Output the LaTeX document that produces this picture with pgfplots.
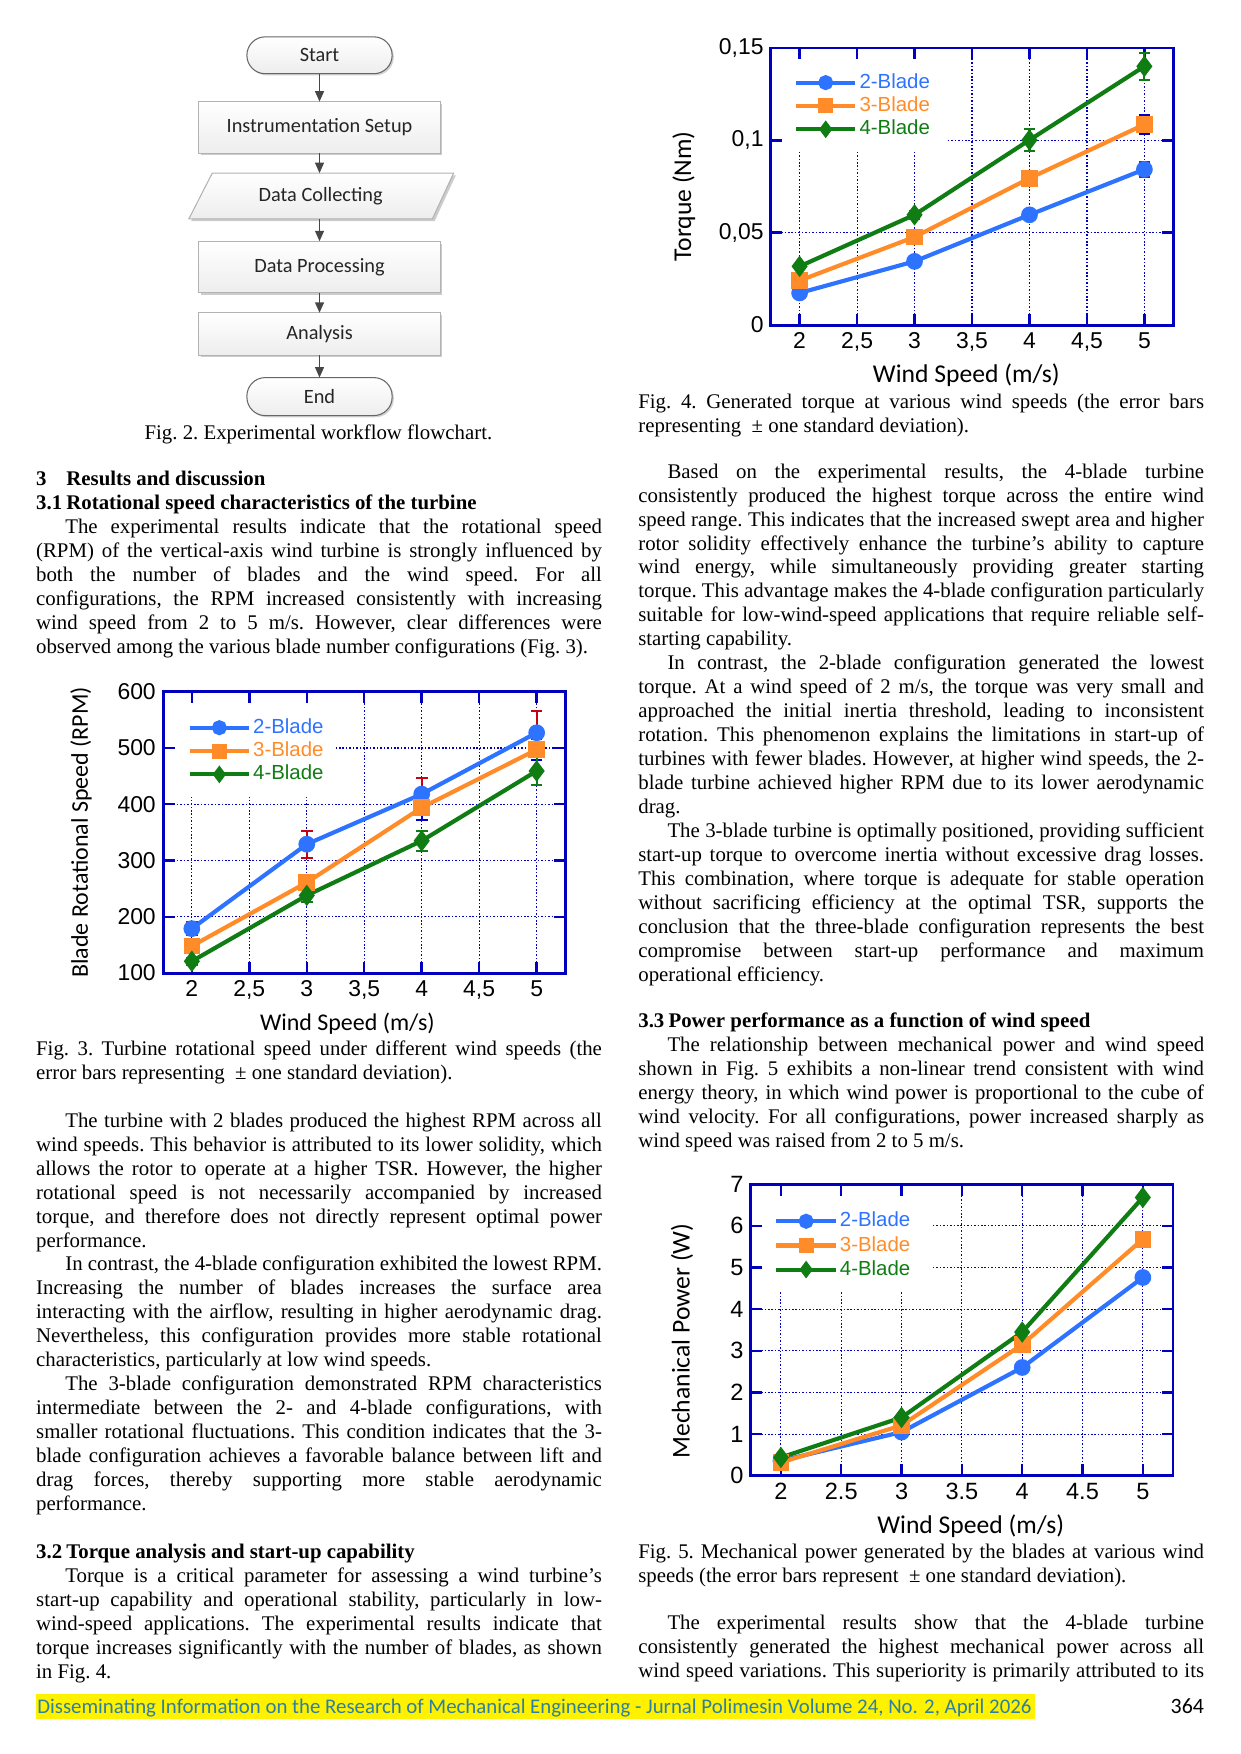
\documentclass[border=0pt]{standalone}
\usepackage{pgfplots}
\pgfplotsset{compat=1.18}
\usetikzlibrary{arrows.meta}
\usepackage{fontspec}
\setmainfont{Liberation Serif}
\newfontfamily\arial{Liberation Sans}
\newfontfamily\carlito{Carlito}

\definecolor{axblue}{RGB}{0,0,190}
\definecolor{c2}{RGB}{45,115,255}
\definecolor{c3}{RGB}{255,140,40}
\definecolor{c4}{RGB}{16,125,20}
\definecolor{eb2}{RGB}{200,0,20}
\definecolor{eb3}{RGB}{0,0,200}
\definecolor{footc}{RGB}{47,128,160}
\definecolor{flowline}{RGB}{70,70,70}

\newlength\colw \setlength\colw{271.6pt}
\newcommand\J[1]{\hbox to \colw{#1}}
\newcommand\N[1]{\hbox{#1}}
\newcommand\blk[1]{\vtop{\baselineskip=11.5pt\lineskiplimit=-20pt #1}}
\newcommand\bodyfont{\fontsize{10}{11.5}\selectfont\frenchspacing\spaceskip=2.5pt plus 6pt minus 1.3pt\relax}
\newcommand\ind{\hskip 14pt}
\newcommand\hd[2]{\hbox{\bfseries\hbox to 14.5pt{#1\hss}#2}}

\tikzset{g/.style={axblue, line width=0.55pt, dash pattern=on 0.75pt off 0.9pt}}
\pgfplotsset{
  chart/.style={
    scale only axis, anchor=south west,
    xmin=1.75, xmax=5.25,
    xtick={2,2.5,3,3.5,4,4.5,5},
    axis line style={axblue, line width=1.4pt},
    tick align=inside, major tick length=5.5pt,
    every tick/.style={axblue, line width=1.2pt},
    tick label style={font=\arial\fontsize{11}{13}\selectfont, text=black},
    label style={font=\carlito\fontsize{12.3}{14}\selectfont},
    legend style={draw=none, fill=none, inner sep=0pt, outer sep=0pt, anchor=west,
       font=\arial\fontsize{9.8}{11}\selectfont, row sep=0.2pt,
       nodes={inner sep=1pt, text height=7.2pt, text depth=1.8pt}},
    legend cell align=left,
    legend image code/.code={\draw[mark repeat=2,mark phase=2,##1,mark size=2.6pt] plot coordinates {(0cm,0cm)(0.5cm,0cm)(1cm,0cm)};},
  },
  s2/.style={c2, line width=2pt, mark=*, mark size=3.0pt, mark options={solid}},
  s3/.style={c3, line width=2pt, mark=square*, mark size=3.0pt, mark options={solid}},
  s4/.style={c4, line width=2pt, mark=diamond*, mark size=3.5pt, mark options={solid}},
  eb/.style={/pgfplots/error bars/y dir=both, /pgfplots/error bars/y explicit,
     /pgfplots/error bars/error bar style={#1, line width=1pt},
     /pgfplots/error bars/error mark options={#1, rotate=90, mark size=2.8pt, line width=1pt}},
}

\begin{document}
\begin{tikzpicture}
\begin{scope}[x=0.5363pt,y=0.5363pt]
\path[use as bounding box] (0,0) rectangle (1110,1570);

% ---------------- flowchart ----------------
\tikzset{fbox/.style={draw=gray!60, line width=0.5pt, top color=white, bottom color=gray!14},
         sh/.style={fill=gray!40},
         ftext/.style={font=\carlito\fontsize{9.75}{11}\selectfont, text=black!85},
         farr/.style={flowline, line width=0.8pt, -{Triangle[length=5pt,width=4.2pt]}}}
\fill[gray!35, rounded corners=8.8pt] (222.5,1502.5) rectangle (352.5,1535.5);
\draw[fbox, draw=gray!80!black, rounded corners=8.8pt] (221,1504) rectangle (351,1537);
\node[ftext] at (286,1520.5) {Start};
\fill[sh] (180,1431) rectangle (396,1477);
\draw[fbox] (178,1433) rectangle (394,1479);
\node[ftext] at (286,1456) {Instrumentation Setup};
\fill[sh] (192,1413) -- (408,1413) -- (389,1372) -- (171,1372) -- cycle;
\draw[fbox] (190,1415) -- (406,1415) -- (387,1374) -- (169,1374) -- cycle;
\node[ftext] at (287,1394.5) {Data Collecting};
\fill[sh] (180,1306) rectangle (396,1352);
\draw[fbox] (178,1308) rectangle (394,1354);
\node[ftext] at (286,1331) {Data Processing};
\fill[sh] (180,1250) rectangle (396,1288);
\draw[fbox] (178,1252) rectangle (394,1290);
\node[ftext] at (286,1271) {Analysis};
\fill[gray!35, rounded corners=8.8pt] (222.5,1196.5) rectangle (352.5,1230.5);
\draw[fbox, draw=gray!80!black, rounded corners=8.8pt] (221,1198) rectangle (351,1232);
\node[ftext] at (286,1215) {End};
\draw[farr] (286,1504) -- (286,1479);
\draw[farr] (286,1433) -- (286,1415);
\draw[farr] (286,1374) -- (286,1354);
\draw[farr] (286,1308) -- (286,1290);
\draw[farr] (286,1252) -- (286,1232);
\node[anchor=base, inner sep=0pt, font=\bodyfont] at (285,1177) {Fig. 2. Experimental workflow flowchart.};

% ---------------- left column text ----------------
\node[anchor=base west, inner sep=0pt, font=\bodyfont] at (32,1135) {\blk{%
\hd{3}{Results and discussion}%
\hd{3.1}{Rotational speed characteristics of the turbine}%
\J{\ind The experimental results indicate that the rotational speed}%
\J{(RPM) of the vertical-axis wind turbine is strongly influenced by}%
\J{both the number of blades and the wind speed. For all}%
\J{configurations, the RPM increased consistently with increasing}%
\J{wind speed from 2 to 5 m/s. However, clear differences were}%
\N{observed among the various blade number configurations (Fig. 3).}}};

\node[anchor=base west, inner sep=0pt, font=\bodyfont] at (32,625) {\blk{%
\J{Fig. 3. Turbine rotational speed under different wind speeds (the}%
\N{error bars representing\hskip 5pt ± one standard deviation).}}};

\node[anchor=base west, inner sep=0pt, font=\bodyfont] at (32,561) {\blk{%
\J{\ind The turbine with 2 blades produced the highest RPM across all}%
\J{wind speeds. This behavior is attributed to its lower solidity, which}%
\J{allows the rotor to operate at a higher TSR. However, the higher}%
\J{rotational speed is not necessarily accompanied by increased}%
\J{torque, and therefore does not directly represent optimal power}%
\N{performance.}%
\J{\ind In contrast, the 4-blade configuration exhibited the lowest RPM.}%
\J{Increasing the number of blades increases the surface area}%
\J{interacting with the airflow, resulting in higher aerodynamic drag.}%
\J{Nevertheless, this configuration provides more stable rotational}%
\N{characteristics, particularly at low wind speeds.}%
\J{\ind The 3-blade configuration demonstrated RPM characteristics}%
\J{intermediate between the 2- and 4-blade configurations, with}%
\J{smaller rotational fluctuations. This condition indicates that the 3-}%
\J{blade configuration achieves a favorable balance between lift and}%
\J{drag forces, thereby supporting more stable aerodynamic}%
\N{performance.}}};

\node[anchor=base west, inner sep=0pt, font=\bodyfont] at (32,175) {\blk{%
\hd{3.2}{Torque analysis and start-up capability}%
\J{\ind Torque is a critical parameter for assessing a wind turbine's}%
\J{start-up capability and operational stability, particularly in low-}%
\J{wind-speed applications. The experimental results indicate that}%
\J{torque increases significantly with the number of blades, as shown}%
\N{in Fig. 4.}}};

% ---------------- right column text ----------------
\node[anchor=base west, inner sep=0pt, font=\bodyfont] at (571,1204) {\blk{%
\J{Fig. 4. Generated torque at various wind speeds (the error bars}%
\N{representing\hskip 5pt ± one standard deviation).}}};

\node[anchor=base west, inner sep=0pt, font=\bodyfont] at (571,1142) {\blk{%
\J{\ind Based on the experimental results, the 4-blade turbine}%
\J{consistently produced the highest torque across the entire wind}%
\J{speed range. This indicates that the increased swept area and higher}%
\J{rotor solidity effectively enhance the turbine’s ability to capture}%
\J{wind energy, while simultaneously providing greater starting}%
\J{torque. This advantage makes the 4-blade configuration particularly}%
\J{suitable for low-wind-speed applications that require reliable self-}%
\N{starting capability.}%
\J{\ind In contrast, the 2-blade configuration generated the lowest}%
\J{torque. At a wind speed of 2 m/s, the torque was very small and}%
\J{approached the initial inertia threshold, leading to inconsistent}%
\J{rotation. This phenomenon explains the limitations in start-up of}%
\J{turbines with fewer blades. However, at higher wind speeds, the 2-}%
\J{blade turbine achieved higher RPM due to its lower aerodynamic}%
\N{drag.}%
\J{\ind The 3-blade turbine is optimally positioned, providing sufficient}%
\J{start-up torque to overcome inertia without excessive drag losses.}%
\J{This combination, where torque is adequate for stable operation}%
\J{without sacrificing efficiency at the optimal TSR, supports the}%
\J{conclusion that the three-blade configuration represents the best}%
\J{compromise between start-up performance and maximum}%
\N{operational efficiency.}}};

\node[anchor=base west, inner sep=0pt, font=\bodyfont] at (571,650) {\blk{%
\hd{3.3}{Power performance as a function of wind speed}%
\J{\ind The relationship between mechanical power and wind speed}%
\J{shown in Fig. 5 exhibits a non-linear trend consistent with wind}%
\J{energy theory, in which wind power is proportional to the cube of}%
\J{wind velocity. For all configurations, power increased sharply as}%
\N{wind speed was raised from 2 to 5 m/s.}}};

\node[anchor=base west, inner sep=0pt, font=\bodyfont] at (571,175) {\blk{%
\J{Fig. 5. Mechanical power generated by the blades at various wind}%
\N{speeds (the error bars represent\hskip 5pt ± one standard deviation).}}};

\node[anchor=base west, inner sep=0pt, font=\bodyfont] at (571,111) {\blk{%
\J{\ind The experimental results show that the 4-blade turbine}%
\J{consistently generated the highest mechanical power across all}%
\J{wind speed variations. This superiority is primarily attributed to its}}};

% ---------------- footer ----------------
\fill[yellow] (32,31) rectangle (926,54);
\node[anchor=base west, inner sep=0pt, font=\carlito\fontsize{10}{11}\selectfont, text=footc] at (33,36) {Disseminating Information on the Research of Mechanical Engineering - Jurnal Polimesin Volume 24, No. 2, April 2026};
\node[anchor=base east, inner sep=0pt, font=\carlito\fontsize{10.5}{12}\selectfont] at (1078,36) {364};
\end{scope}

% ---------------- Fig. 3 ----------------
\begin{axis}[chart, at={(78.30pt,374.87pt)}, width=193.1pt, height=135.1pt,
  ymin=100, ymax=600, ytick={100,200,300,400,500,600},
  yticklabels={100,200,300,400,500,600},
  xticklabels={2,{2,5},3,{3,5},4,{4,5},5},
  xlabel={Wind Speed (m/s)}, ylabel={Blade Rotational Speed (RPM)},
  label style={font=\carlito\fontsize{11.5}{13}\selectfont},
  xlabel style={at={(axis description cs:0.458,-0.1806)}, anchor=center},
  ylabel style={at={(axis description cs:-0.204,0.5)}, anchor=center},
  legend style={at={(axis description cs:0.061,0.789)}},
]
\draw[g] (axis cs:2,100) -- (axis cs:2,413);
\draw[g] (axis cs:2.5,100) -- (axis cs:2.5,413);
\draw[g] (axis cs:3,100) -- (axis cs:3,413);
\draw[g] (axis cs:3.5,100) -- (axis cs:3.5,600);
\draw[g] (axis cs:4,100) -- (axis cs:4,600);
\draw[g] (axis cs:4.5,100) -- (axis cs:4.5,600);
\draw[g] (axis cs:5,100) -- (axis cs:5,600);
\draw[g] (axis cs:1.75,200) -- (axis cs:5.25,200);
\draw[g] (axis cs:1.75,300) -- (axis cs:5.25,300);
\draw[g] (axis cs:1.75,400) -- (axis cs:5.25,400);
\draw[g] (axis cs:3.25,500) -- (axis cs:5.25,500);
\addplot[s2, eb=eb2] table[x=x,y=y,y error=e] {
x y e
2 179 12
3 329 24
4 418 29
5 527 38
};
\addlegendentry{\textcolor{c2}{2-Blade}}
\addplot[s3, eb=eb3] table[x=x,y=y,y error=e] {
x y e
2 148 8
3 261 9
4 394 22
5 497 19
};
\addlegendentry{\textcolor{c3}{3-Blade}}
\addplot[s4, eb=c4] table[x=x,y=y,y error=e] {
x y e
2 121 6
3 238 12
4 335 18
5 459 25
};
\addlegendentry{\textcolor{c4}{4-Blade}}
\end{axis}

% ---------------- Fig. 4 ----------------
\begin{axis}[chart, at={(370.05pt,685.93pt)}, width=193.1pt, height=133.0pt,
  ymin=0, ymax=0.15, ytick={0,0.05,0.1,0.15},
  yticklabels={0,{0,05},{0,1},{0,15}},
  xticklabels={2,{2,5},3,{3,5},4,{4,5},5},
  xlabel={Wind Speed (m/s)}, ylabel={Torque (Nm)},
  xlabel style={at={(axis description cs:0.486,-0.1812)}, anchor=center},
  ylabel style={at={(axis description cs:-0.2166,0.464)}, anchor=center},
  legend style={at={(axis description cs:0.0575,0.791)}},
]
\draw[g] (axis cs:2,0) -- (axis cs:2,0.094);
\draw[g] (axis cs:2.5,0) -- (axis cs:2.5,0.094);
\draw[g] (axis cs:3,0) -- (axis cs:3,0.094);
\draw[g] (axis cs:3.5,0) -- (axis cs:3.5,0.15);
\draw[g] (axis cs:4,0) -- (axis cs:4,0.15);
\draw[g] (axis cs:4.5,0) -- (axis cs:4.5,0.15);
\draw[g] (axis cs:5,0) -- (axis cs:5,0.15);
\draw[g] (axis cs:1.75,0.05) -- (axis cs:5.25,0.05);
\draw[g] (axis cs:3.29,0.1) -- (axis cs:5.25,0.1);
\addplot[s2, eb=eb2] table[x=x,y=y,y error=e] {
x y e
2 0.0174 0.001
3 0.0345 0.0012
4 0.0597 0.002
5 0.0843 0.004
};
\addlegendentry{\textcolor{c2}{2-Blade}}
\addplot[s3, eb=eb3] table[x=x,y=y,y error=e] {
x y e
2 0.0241 0.001
3 0.0477 0.0012
4 0.0795 0.0036
5 0.1086 0.0052
};
\addlegendentry{\textcolor{c3}{3-Blade}}
\addplot[s4, eb=c4] table[x=x,y=y,y error=e] {
x y e
2 0.0318 0.001
3 0.0597 0.002
4 0.1002 0.0058
5 0.1401 0.0074
};
\addlegendentry{\textcolor{c4}{4-Blade}}
\end{axis}

% ---------------- Fig. 5 ----------------
\begin{axis}[chart, at={(360.39pt,133.54pt)}, width=202.7pt, height=140.0pt,
  ymin=0, ymax=7, ytick={0,1,2,3,4,5,6,7},
  yticklabels={0,1,2,3,4,5,6,7},
  xticklabels={2,2.5,3,3.5,4,4.5,5},
  tick label style={font=\arial\fontsize{11.3}{13}\selectfont},
  xlabel={Wind Speed (m/s)}, ylabel={Mechanical Power (W)},
  xlabel style={at={(axis description cs:0.521,-0.172)}, anchor=center},
  ylabel style={at={(axis description cs:-0.1625,0.462)}, anchor=center},
  legend style={at={(axis description cs:0.056,0.79)}, row sep=0.6pt},
]
\draw[g] (axis cs:2,0) -- (axis cs:2,4.4);
\draw[g] (axis cs:2.5,0) -- (axis cs:2.5,4.4);
\draw[g] (axis cs:3,0) -- (axis cs:3,4.4);
\draw[g] (axis cs:3.5,0) -- (axis cs:3.5,7);
\draw[g] (axis cs:4,0) -- (axis cs:4,7);
\draw[g] (axis cs:4.5,0) -- (axis cs:4.5,7);
\draw[g] (axis cs:5,0) -- (axis cs:5,7);
\draw[g] (axis cs:1.75,1) -- (axis cs:5.25,1);
\draw[g] (axis cs:1.75,2) -- (axis cs:5.25,2);
\draw[g] (axis cs:1.75,3) -- (axis cs:5.25,3);
\draw[g] (axis cs:1.75,4) -- (axis cs:5.25,4);
\draw[g] (axis cs:3.26,5) -- (axis cs:5.25,5);
\draw[g] (axis cs:3.26,6) -- (axis cs:5.25,6);
\addplot[s2] table[x=x,y=y] {
x y
2 0.36
3 1.05
4 2.60
5 4.76
};
\addlegendentry{\textcolor{c2}{2-Blade}}
\addplot[s3] table[x=x,y=y] {
x y
2 0.32
3 1.21
4 3.15
5 5.68
};
\addlegendentry{\textcolor{c3}{3-Blade}}
\addplot[s4] table[x=x,y=y] {
x y
2 0.44
3 1.40
4 3.45
5 6.68
};
\addlegendentry{\textcolor{c4}{4-Blade}}
\end{axis}
\end{tikzpicture}
\end{document}
